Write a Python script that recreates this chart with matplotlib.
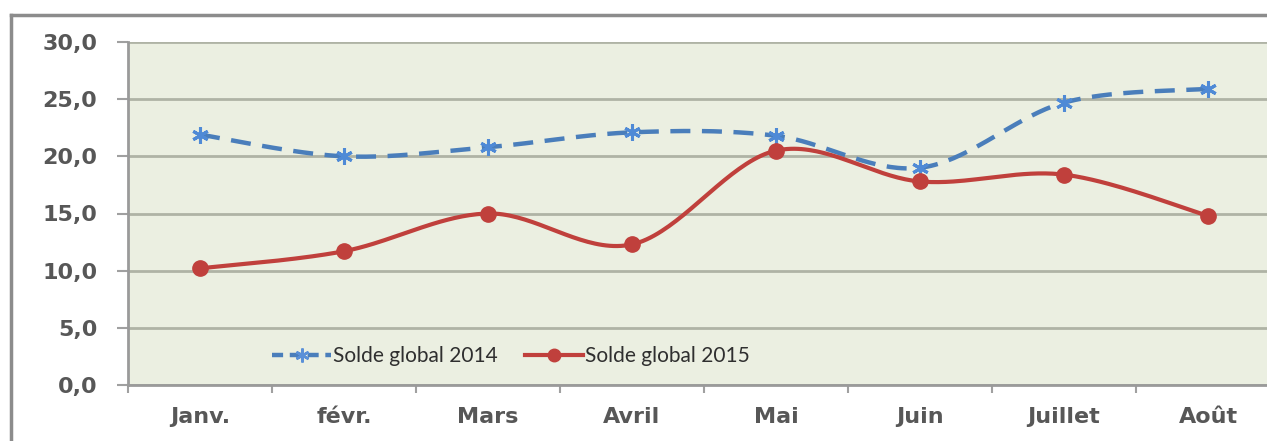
import numpy as np
import matplotlib.pyplot as plt
from matplotlib.lines import Line2D
from matplotlib.ticker import MultipleLocator, FixedLocator

mois = ['Janv.', 'févr.', 'Mars', 'Avril', 'Mai', 'Juin', 'Juillet', 'Août']
solde_2014 = [21.9, 20.0, 20.8, 22.1, 21.8, 19.0, 24.7, 25.9]
solde_2015 = [10.2, 11.7, 15.0, 12.3, 20.5, 17.8, 18.4, 14.8]

BLEU = '#4a7ebb'
ROUGE = '#c0403c'
FOND = '#ebefe1'
GRILLE = '#afb3a5'


def courbe_lisse(y, n=40):
    # Catmull-Rom entre chaque point, comme le lissage des courbes Excel
    x = np.arange(len(y), dtype=float)
    y = np.asarray(y, dtype=float)
    px = np.concatenate([[x[0]], x, [x[-1]]])
    py = np.concatenate([[y[0]], y, [y[-1]]])
    t = np.linspace(0, 1, n)
    xs, ys = [], []
    for i in range(len(y) - 1):
        for p, out in ((px, xs), (py, ys)):
            p0, p1, p2, p3 = p[i], p[i + 1], p[i + 2], p[i + 3]
            out.append(0.5 * (2 * p1 + (-p0 + p2) * t
                              + (2 * p0 - 5 * p1 + 4 * p2 - p3) * t ** 2
                              + (-p0 + 3 * p1 - 3 * p2 + p3) * t ** 3))
    return np.concatenate(xs), np.concatenate(ys)


W, H = 1267, 441
fig = plt.figure(figsize=(W / 100, H / 100), dpi=100, facecolor='white')
# zone de tracé : 128 -> 1280 px en x (coupée à droite), 42 -> 385 px en y
ax = fig.add_axes([128 / W, (H - 385) / H, 1152 / W, 343 / H])
ax.set_facecolor(FOND)

x = np.arange(len(mois))

xs, ys = courbe_lisse(solde_2014)
ax.plot(xs, ys, color=BLEU, lw=3.2, ls=(0, (4.5, 2.6)), zorder=3)
ax.plot(x, solde_2014, ls='none', marker=(6, 2, 0), ms=12, mew=2.2,
        mec='#4f8ad6', zorder=4)

xs, ys = courbe_lisse(solde_2015)
ax.plot(xs, ys, color=ROUGE, lw=3, zorder=3)
ax.plot(x, solde_2015, ls='none', marker='o', ms=11, mfc=ROUGE, mec=ROUGE,
        zorder=4)

ax.set_xlim(-0.5, len(mois) - 0.5)
ax.set_ylim(0, 30)

ax.yaxis.set_major_locator(MultipleLocator(5))
ax.set_yticklabels([f'{v:.1f}'.replace('.', ',') for v in ax.get_yticks()],
                   fontweight='bold')
ax.grid(axis='y', color=GRILLE, lw=2)
ax.set_axisbelow(True)

ax.set_xticks(x)
ax.set_xticklabels(mois, fontweight='bold')
ax.xaxis.set_minor_locator(FixedLocator(np.arange(-0.5, len(mois), 1)))
ax.tick_params(axis='x', which='major', length=0, pad=16,
               labelsize=16, labelcolor='#575757')
ax.tick_params(axis='x', which='minor', length=6, width=1.5, color='#a0a0a0')
ax.tick_params(axis='y', length=8, width=1.5, color='#a0a0a0', pad=14,
               labelsize=16, labelcolor='#575757')

for s in ('top', 'right'):
    ax.spines[s].set_visible(False)
for s in ('left', 'bottom'):
    ax.spines[s].set_color('#9a9a9a')
    ax.spines[s].set_linewidth(2)

poignees = [
    Line2D([], [], color=BLEU, lw=3.2, ls=(0, (2.5, 1.5)), marker=(6, 2, 0),
           ms=10, mew=1.8, mec='#5a90d8'),
    Line2D([], [], color=ROUGE, lw=3, marker='o', ms=9, mfc=ROUGE, mec=ROUGE),
]
fig.legend(poignees, ['Solde global 2014', 'Solde global 2015'],
           loc='center left', bbox_to_anchor=(262 / W, (H - 356) / H),
           ncol=2, frameon=False, borderpad=0, handlelength=2.8,
           handletextpad=0.1, columnspacing=1.3,
           prop={'family': 'Lato', 'size': 15}, labelcolor='#2f2f2f')

# cadre gris en haut et à gauche
fig.add_artist(Line2D([11 / W, 1], [1 - 15 / H, 1 - 15 / H], color='#8c8c8c',
                      lw=2.5, transform=fig.transFigure))
fig.add_artist(Line2D([11 / W, 11 / W], [0, 1 - 15 / H], color='#8c8c8c',
                      lw=2.5, transform=fig.transFigure))

fig.savefig('out.png', dpi=100)
